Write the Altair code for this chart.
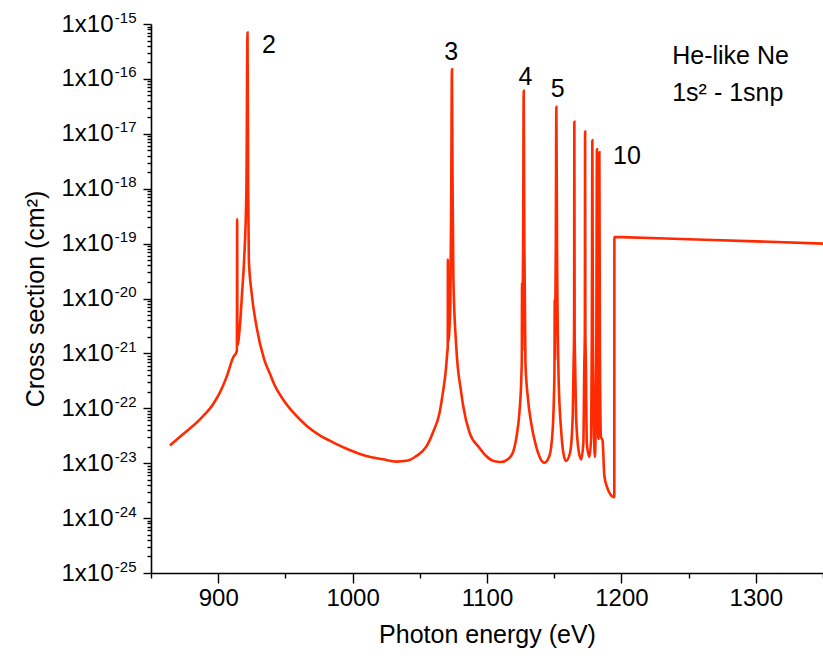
import altair as alt
import pandas as pd

# ---- data ----
energy = [
    864.1, 874.0, 886.4, 896.3, 901.3, 906.2, 911.2, 913.9, 914.1, 914.3,
    916.1, 917.8, 919.3, 921.0, 921.8, 922.3, 922.8, 924.8, 928.5, 934.2,
    938.4, 942.1, 948.3, 957.0, 965.7, 975.6, 985.4, 997.8, 1010.2, 1022.6, 1032.5,
    1041.2, 1047.4, 1054.8, 1059.7, 1064.7, 1067.2, 1069.2, 1070.4, 1070.8, 1070.9,
    1071.1, 1072.7, 1073.4, 1073.9, 1074.4, 1075.0, 1077.1, 1080.8, 1082.3, 1087.0,
    1094.4, 1099.4, 1104.8, 1110.5, 1115.5, 1119.2, 1122.1, 1124.1, 1125.6, 1125.9,
    1126.1, 1126.3, 1126.9, 1127.3, 1127.8, 1128.6, 1130.3, 1132.8, 1136.6, 1139.4,
    1142.7, 1146.4, 1148.9, 1149.8, 1150.2, 1150.4, 1150.6, 1151.2, 1151.6, 1152.1,
    1153.3, 1155.1, 1156.8, 1158.8, 1161.8, 1163.8, 1164.4, 1164.8, 1165.0, 1165.2,
    1165.6, 1166.3, 1168.0, 1170.0, 1171.7, 1172.4, 1172.8, 1173.0, 1173.2, 1173.6,
    1174.2, 1176.2, 1177.5, 1178.0, 1178.4, 1178.8, 1180.3, 1181.3, 1181.8, 1182.3,
    1182.8, 1183.3, 1183.6, 1184.0, 1184.8, 1186.0, 1187.3, 1189.8, 1192.3, 1194.7,
    1194.8, 1200.0, 1250.0, 1300.0, 1350.0,
]
sigma = [
    2.1e-23, 3.4e-23, 6.3e-23, 1.2e-22, 1.95e-22, 3.7e-22, 8.5e-22, 1.1e-21, 2.8e-19, 1.4e-21,
    3.1e-21, 1.3e-20, 5.1e-20, 1.0e-18, 7.0e-16, 1.0e-18, 5.1e-20, 1.3e-20, 3.1e-21, 7.8e-22,
    4.3e-22, 2.6e-22, 1.45e-22, 7.8e-23, 4.8e-23, 3.2e-23, 2.4e-23, 1.74e-23, 1.35e-23, 1.18e-23, 1.07e-23,
    1.12e-23, 1.35e-23, 2.0e-23, 3.6e-23, 8.3e-23, 1.95e-22, 4.5e-22, 1.0e-21, 1.3e-21, 5.1e-20,
    1.6e-21, 7.2e-21, 1.0e-18, 1.5e-16, 1.0e-18, 2.2e-20, 1.35e-21, 1.95e-22, 1.1e-22, 3.6e-23,
    1.9e-23, 1.35e-23, 1.1e-23, 1.05e-23, 1.18e-23, 1.55e-23, 3.2e-23, 8.3e-23, 4.0e-22, 8.0e-22,
    1.9e-20, 1.2e-21, 1.0e-19, 6.1e-17, 1.0e-19, 6.8e-22, 1.65e-22, 5.5e-23, 2.0e-23, 1.26e-23,
    1.02e-23, 1.35e-23, 4.2e-23, 1.65e-22, 5.0e-22, 9.5e-21, 8.0e-22, 1.0e-19, 3.1e-17, 1.0e-19,
    3.4e-22, 4.2e-23, 1.55e-23, 1.1e-23, 1.55e-23, 7.2e-23, 6.0e-22, 2.5e-21, 1.66e-17, 2.5e-21,
    6.0e-22, 7.2e-23, 1.8e-23, 1.17e-23, 2.4e-23, 6.0e-22, 2.5e-21, 1.1e-17, 2.5e-21, 6.0e-22,
    2.4e-23, 1.3e-23, 3.0e-23, 2.0e-21, 7.6e-18, 2.0e-21, 1.3e-23, 1.0e-21, 5.2e-18, 1.0e-21,
    2.8e-23, 1.0e-21, 4.6e-18, 1.0e-21, 3.0e-23, 2.6e-23, 5.9e-24, 3.4e-24, 2.6e-24, 2.4e-24,
    1.32e-19, 1.31e-19, 1.2e-19, 1.1e-19, 1.0e-19,
]

peak_labels = ["2", "3", "4", "5", "10"]
peak_label_x = [937.7, 1073.4, 1128.6, 1152.6, 1204.1]
peak_label_y = [4.2e-16, 3.1e-16, 1.1e-16, 6.5e-17, 3.9e-18]

note_lines = ["He-like Ne", "1s\u00b2 - 1snp"]
note_x = [1237.8, 1237.8]
note_y = [2.6e-16, 5.6e-17]

x_ticks = [850, 900, 950, 1000, 1050, 1100, 1150, 1200, 1250, 1300, 1350]
y_exponents = list(range(-25, -14))

# ---- axis helpers ----
y_major = [float(f"1e{n}") for n in y_exponents]
y_tick_values = []
for n in y_exponents:
    y_tick_values.append(float(f"1e{n}"))
    if n < -15:
        for k in range(2, 10):
            y_tick_values.append(float(f"{k}e{n}"))

lg = "log(datum.value)/LN10"
is_major_y = f"abs({lg} - round({lg})) < 0.001"

FONT = "Liberation Sans"
LINE_COLOR = "#ff2a00"

df = pd.DataFrame({"E": energy, "sigma": sigma})
peaks_df = pd.DataFrame({"t": peak_labels, "E": peak_label_x, "sigma": peak_label_y})
note_df = pd.DataFrame({"t": note_lines, "E": note_x, "sigma": note_y})
exp_df = pd.DataFrame({"sigma": y_major})

x_scale = alt.Scale(domain=[850, 1350], nice=False, zero=False)
y_scale = alt.Scale(type="log", domain=[1e-25, 1e-15], nice=False)

x_axis = alt.Axis(
    title="Photon energy (eV)",
    values=x_ticks,
    format="d",
    labelExpr="datum.value % 100 == 0 ? datum.label : ''",
    tickSize={"condition": {"test": "datum.value % 100 == 0", "value": 10}, "value": 5},
    grid=False,
    labelPadding=3,
    titlePadding=12,
    labelFlush=False,
    labelOverlap=False,
)
# main y axis: ticks and the "1x10" mantissa part of the labels
y_axis = alt.Axis(
    title="Cross section (cm\u00b2)",
    orient="left",
    values=y_tick_values,
    labelExpr=f"{is_major_y} ? '1x10' : ''",
    tickSize={"condition": {"test": is_major_y, "value": 8}, "value": 4},
    grid=False,
    labelPadding=30,
    titlePadding=12,
    labelOverlap=False,
    labelFlush=False,
)
# second y axis on the same scale: the exponent, set smaller and raised
y_axis_exp = alt.Axis(
    title="",
    orient="left",
    values=y_major,
    labelExpr="'' + round(log(datum.value)/LN10)",
    ticks=False,
    tickSize=0,
    domain=False,
    grid=False,
    labelFontSize=15,
    labelPadding=15,
    labelOffset=-7,
    labelOverlap=False,
    labelFlush=False,
)

line = alt.Chart(df).mark_line(
    color=LINE_COLOR, strokeWidth=2.6, clip=True, interpolate="monotone"
).encode(
    x=alt.X("E:Q", scale=x_scale, axis=x_axis),
    y=alt.Y("sigma:Q", scale=y_scale, axis=y_axis),
    order="E:Q",
)

exp_layer = alt.Chart(exp_df).mark_point(opacity=0).encode(
    y=alt.Y("sigma:Q", scale=y_scale, axis=y_axis_exp),
)

peak_text = alt.Chart(peaks_df).mark_text(
    font=FONT, fontSize=25, color="black", align="center", baseline="middle"
).encode(
    x=alt.X("E:Q", scale=x_scale),
    y=alt.Y("sigma:Q", scale=y_scale, axis=None),
    text="t:N",
)

note_text = alt.Chart(note_df).mark_text(
    font=FONT, fontSize=25, color="black", align="left", baseline="middle"
).encode(
    x=alt.X("E:Q", scale=x_scale),
    y=alt.Y("sigma:Q", scale=y_scale, axis=None),
    text="t:N",
)

chart = (
    alt.layer(line, exp_layer, peak_text, note_text)
    .resolve_scale(y="shared")
    .resolve_axis(y="independent")
    .properties(
        width=672,
        height=549,
        autosize=alt.AutoSizeParams(type="none"),
        padding={"left": 151, "top": 24, "right": 0, "bottom": 89},
        background="white",
    )
    .configure_view(stroke=None)
    .configure_axis(
        domainColor="black",
        domainWidth=1.6,
        tickColor="black",
        tickWidth=1.4,
        labelFont=FONT,
        labelFontSize=24,
        labelColor="black",
        titleFont=FONT,
        titleFontSize=25,
        titleFontWeight="normal",
        titleColor="black",
    )
)

chart.save("out.html", embed_options={"renderer": "svg", "actions": False})
